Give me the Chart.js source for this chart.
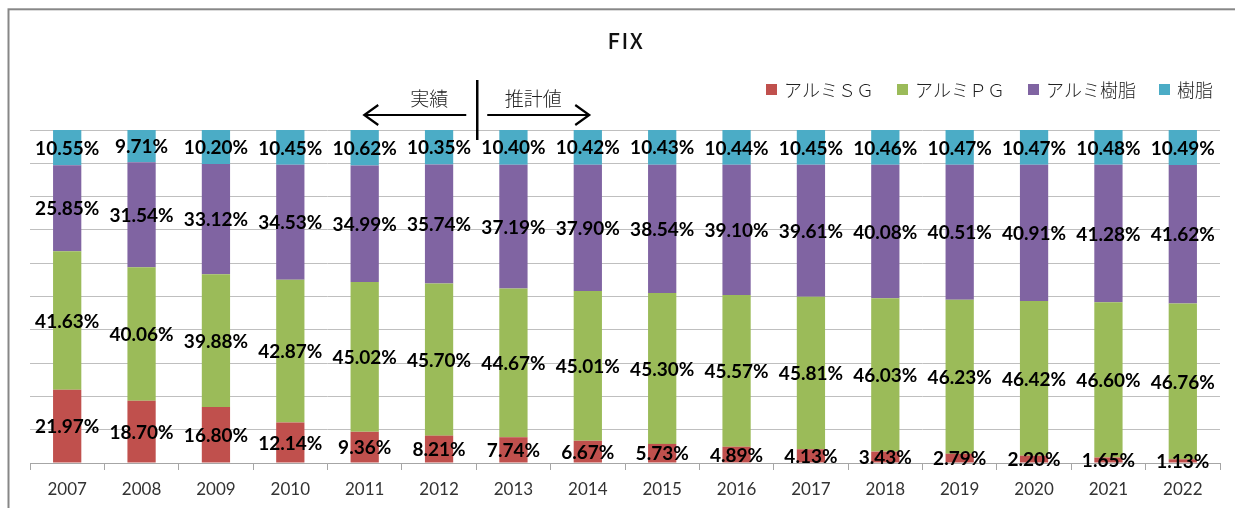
<!DOCTYPE html>
<html lang="ja">
<head>
<meta charset="utf-8">
<title>FIX</title>
<script src="https://cdn.jsdelivr.net/npm/chart.js@4.4.1/dist/chart.umd.min.js"></script>
<style>
  html, body { margin: 0; padding: 0; background: #ffffff; }
  #wrap { width: 1235px; height: 508px; }
</style>
</head>
<body>
<div id="wrap"><canvas id="chart" width="1235" height="508"></canvas></div>
<script>
// Share of FIX window types by year (%), actuals to 2012, estimates from 2013
const years = ['2007', '2008', '2009', '2010', '2011', '2012', '2013', '2014',
               '2015', '2016', '2017', '2018', '2019', '2020', '2021', '2022'];

const seriesNames = ['アルミＳＧ', 'アルミＰＧ', 'アルミ樹脂', '樹脂'];

const aluminiumSG = [21.97, 18.70, 16.80, 12.14, 9.36, 8.21, 7.74, 6.67,
                     5.73, 4.89, 4.13, 3.43, 2.79, 2.20, 1.65, 1.13];
const aluminiumPG = [41.63, 40.06, 39.88, 42.87, 45.02, 45.70, 44.67, 45.01,
                     45.30, 45.57, 45.81, 46.03, 46.23, 46.42, 46.60, 46.76];
const aluminiumResin = [25.85, 31.54, 33.12, 34.53, 34.99, 35.74, 37.19, 37.90,
                        38.54, 39.10, 39.61, 40.08, 40.51, 40.91, 41.28, 41.62];
const resin = [10.55, 9.71, 10.20, 10.45, 10.62, 10.35, 10.40, 10.42,
               10.43, 10.44, 10.45, 10.46, 10.47, 10.47, 10.48, 10.49];

const seriesColors = ['#C0504D', '#9BBB59', '#8064A2', '#4BACC6'];

// index of the first estimated year
const firstEstimateIndex = years.indexOf('2013');

const CJK = '"Noto Sans CJK JP", "Noto Sans", sans-serif';
const NUM = 'Lato, "Liberation Sans", sans-serif';

// frame, title, legend and the actual/estimate divider
const decorations = {
  id: 'decorations',
  beforeDraw(chart) {
    const ctx = chart.ctx;
    ctx.save();
    ctx.fillStyle = '#ffffff';
    ctx.fillRect(0, 0, chart.width, chart.height);
    ctx.strokeStyle = '#878787';
    ctx.lineWidth = 2;
    ctx.strokeRect(8.5, 9.3, chart.width + 20, chart.height + 20);
    ctx.restore();
  },
  afterDraw(chart) {
    const ctx = chart.ctx;
    const area = chart.chartArea;
    const xs = chart.scales.x;
    ctx.save();

    // title
    ctx.fillStyle = '#111111';
    ctx.font = '500 22px ' + CJK;
    ctx.textAlign = 'center';
    ctx.textBaseline = 'middle';
    if ('letterSpacing' in ctx) ctx.letterSpacing = '1.5px';
    ctx.fillText('FIX', 626, 41);
    if ('letterSpacing' in ctx) ctx.letterSpacing = '0px';

    // legend
    ctx.font = '300 18px ' + CJK;
    ctx.textAlign = 'left';
    let lx = 766;
    const ly = 89;
    chart.data.datasets.forEach((ds) => {
      ctx.fillStyle = ds.backgroundColor;
      ctx.fillRect(lx, ly - 5, 11, 11);
      ctx.fillStyle = '#222222';
      ctx.fillText(ds.label, lx + 18, ly + 1);
      lx += 18 + ctx.measureText(ds.label).width + 23;
    });

    // divider between actual and estimated years
    const bx = (xs.getPixelForValue(firstEstimateIndex - 1) + xs.getPixelForValue(firstEstimateIndex)) / 2 + 1;
    const ay = area.top - 15;
    ctx.strokeStyle = '#000000';
    ctx.lineWidth = 2.5;
    ctx.lineCap = 'butt';
    ctx.beginPath();
    ctx.moveTo(bx, area.top - 50);
    ctx.lineTo(bx, area.top + 10);
    ctx.stroke();

    ctx.lineWidth = 2.2;
    ctx.lineJoin = 'miter';
    // left arrow
    const l0 = bx - 11, l1 = bx - 113;
    ctx.beginPath();
    ctx.moveTo(l0, ay);
    ctx.lineTo(l1 + 1, ay);
    ctx.stroke();
    ctx.beginPath();
    ctx.moveTo(l1 + 14, ay - 10);
    ctx.lineTo(l1, ay);
    ctx.lineTo(l1 + 14, ay + 10);
    ctx.stroke();
    // right arrow
    const r0 = bx + 10, r1 = bx + 112;
    ctx.beginPath();
    ctx.moveTo(r0, ay);
    ctx.lineTo(r1 - 1, ay);
    ctx.stroke();
    ctx.beginPath();
    ctx.moveTo(r1 - 14, ay - 10);
    ctx.lineTo(r1, ay);
    ctx.lineTo(r1 - 14, ay + 10);
    ctx.stroke();

    ctx.fillStyle = '#222222';
    ctx.font = '300 19px ' + CJK;
    ctx.textAlign = 'center';
    ctx.fillText('実績', bx - 48, area.top - 31);
    ctx.fillText('推計値', bx + 56, area.top - 31);

    ctx.restore();
  }
};

// percentage labels centred in each bar segment
const segmentLabels = {
  id: 'segmentLabels',
  afterDatasetsDraw(chart) {
    const ctx = chart.ctx;
    ctx.save();
    ctx.font = 'bold 19px ' + NUM;
    ctx.fillStyle = '#000000';
    ctx.textAlign = 'center';
    ctx.textBaseline = 'middle';
    chart.data.datasets.forEach((ds, di) => {
      const meta = chart.getDatasetMeta(di);
      meta.data.forEach((el, i) => {
        const p = el.getProps(['x', 'y', 'base'], true);
        ctx.fillText(ds.data[i].toFixed(2) + '%', p.x, (p.y + p.base) / 2 + 1);
      });
    });
    ctx.restore();
  }
};

const seriesValues = [aluminiumSG, aluminiumPG, aluminiumResin, resin];

new Chart(document.getElementById('chart'), {
  type: 'bar',
  data: {
    labels: years,
    datasets: seriesNames.map((name, k) => ({
      label: name,
      data: seriesValues[k],
      backgroundColor: seriesColors[k],
      borderWidth: 0,
      categoryPercentage: 1.0,
      barPercentage: 0.38
    }))
  },
  options: {
    responsive: false,
    animation: false,
    devicePixelRatio: 1,
    layout: { padding: { left: 30, right: 15, top: 130, bottom: 0 } },
    plugins: {
      legend: { display: false },
      title: { display: false },
      tooltip: { enabled: false }
    },
    scales: {
      x: {
        stacked: true,
        afterFit(scale) { scale.height = 45; },
        grid: {
          offset: true,
          drawOnChartArea: false,
          drawTicks: true,
          tickLength: 7,
          color: '#a6a6a6'
        },
        border: { display: true, color: '#a6a6a6', width: 1 },
        ticks: {
          color: '#333333',
          font: { family: NUM, size: 17, lineHeight: 1 },
          padding: 11,
          maxRotation: 0,
          autoSkip: false
        }
      },
      y: {
        stacked: true,
        min: 0,
        max: 100,
        ticks: { display: false, stepSize: 10 },
        grid: { color: '#bfbfbf', lineWidth: 1, drawTicks: false },
        border: { display: false }
      }
    }
  },
  plugins: [decorations, segmentLabels]
});
</script>
</body>
</html>
